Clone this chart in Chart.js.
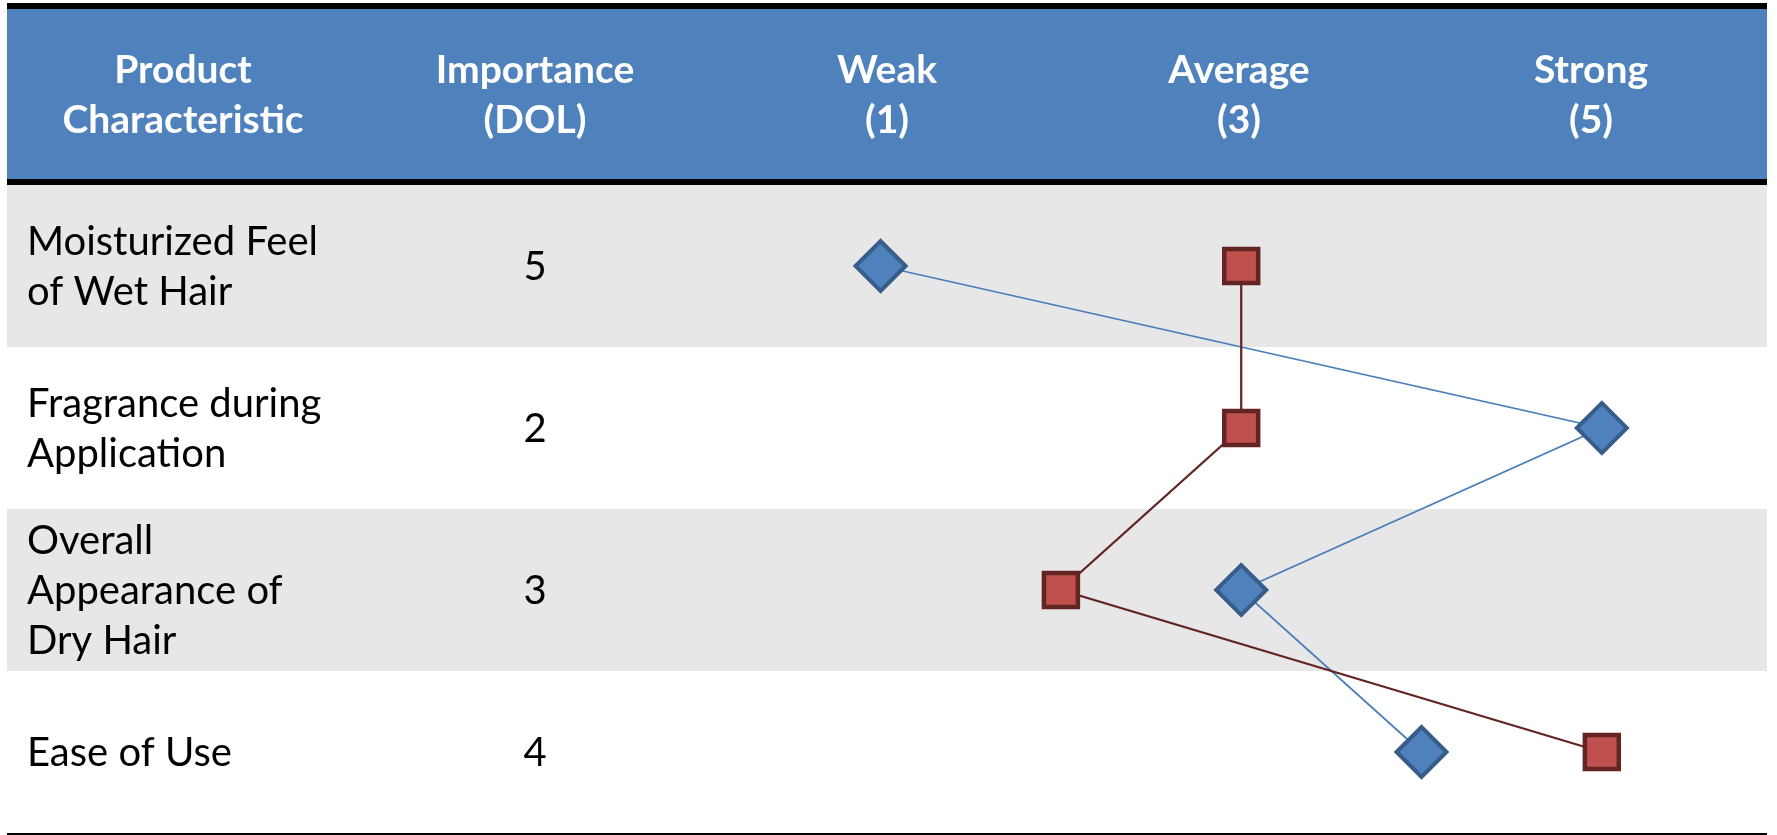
<!DOCTYPE html>
<html>
<head>
<meta charset="utf-8">
<title>Product Characteristic Ratings</title>
<script src="https://cdn.jsdelivr.net/npm/chart.js@4/dist/chart.umd.min.js"></script>
<style>
  html, body { margin: 0; padding: 0; background: #ffffff; }
  #wrap { position: relative; width: 1777px; height: 835px; }
</style>
</head>
<body>
<div id="wrap"><canvas id="chartRatings"></canvas></div>
<script>
// table columns and rows
const headerLabels = [
  ['Product', 'Characteristic'],
  ['Importance', '(DOL)'],
  ['Weak', '(1)'],
  ['Average', '(3)'],
  ['Strong', '(5)']
];
const characteristics = [
  ['Moisturized Feel', 'of Wet Hair'],
  ['Fragrance during', 'Application'],
  ['Overall', 'Appearance of', 'Dry Hair'],
  ['Ease of Use']
];
const importance = [5, 2, 3, 4];

// ratings on the 1..5 scale, one per characteristic
const ratingsBlue = [1, 5, 3, 4];
const ratingsRed = [3, 3, 2, 5];

const FONT = 'Lato, "Open Sans", sans-serif';
const HEAD_SIZE = 39;
const BODY_SIZE = 40;
const LINE_H = 50;

function drawLines(ctx, lines, x, midY, size) {
  const first = midY - (lines.length - 1) * LINE_H / 2 + size * 0.36;
  lines.forEach((t, k) => ctx.fillText(t, x, first + k * LINE_H));
}

// background table: header band, black rules, banded rows and the text columns
const tablePlugin = {
  id: 'ratingTable',
  beforeDatasetsDraw(chart) {
    const { ctx, chartArea: area, scales: { y } } = chart;
    const w = area.right - area.left;
    const colW = w / headerLabels.length;
    ctx.save();

    ctx.fillStyle = '#000000';
    ctx.fillRect(area.left, 3, w, 6);
    ctx.fillStyle = '#4f81bd';
    ctx.fillRect(area.left, 9, w, area.top - 15);
    ctx.fillStyle = '#000000';
    ctx.fillRect(area.left, area.top - 6, w, 6);

    ctx.fillStyle = '#ffffff';
    ctx.font = `bold ${HEAD_SIZE}px ${FONT}`;
    ctx.textAlign = 'center';
    ctx.textBaseline = 'alphabetic';
    const headMid = (9 + area.top - 6) / 2;
    headerLabels.forEach((lines, c) => {
      drawLines(ctx, lines, area.left + colW * (c + 0.5), headMid, HEAD_SIZE);
    });

    characteristics.forEach((lines, i) => {
      const top = y.getPixelForValue(i - 0.5);
      const bottom = y.getPixelForValue(i + 0.5);
      if (i % 2 === 0) {
        ctx.fillStyle = '#e7e7e7';
        ctx.fillRect(area.left, top, w, bottom - top);
      }
      const mid = (top + bottom) / 2;
      ctx.fillStyle = '#000000';
      ctx.font = `${BODY_SIZE}px ${FONT}`;
      ctx.textAlign = 'left';
      drawLines(ctx, lines, area.left + 20, mid, BODY_SIZE);
      ctx.textAlign = 'center';
      drawLines(ctx, [String(importance[i])], area.left + colW * 1.5, mid, BODY_SIZE);
    });

    ctx.fillStyle = '#000000';
    ctx.fillRect(area.left, area.bottom, w, 3);
    ctx.restore();
  }
};

const toPoints = arr => arr.map((v, i) => ({ x: v, y: i }));

const data = {
  datasets: [
    {
      label: 'Red',
      data: toPoints(ratingsRed),
      order: 1,
      borderColor: '#632523',
      borderWidth: 2.25,
      pointStyle: 'rect',
      pointRadius: 24,
      pointHoverRadius: 24,
      pointBackgroundColor: '#c0504d',
      pointBorderColor: '#632523',
      pointBorderWidth: 4.5
    },
    {
      label: 'Blue',
      data: toPoints(ratingsBlue),
      order: 2,
      borderColor: '#4a7ebb',
      borderWidth: 1.75,
      pointStyle: 'rectRot',
      pointRadius: 25,
      pointHoverRadius: 25,
      pointBackgroundColor: '#4f81bd',
      pointBorderColor: '#385d8a',
      pointBorderWidth: 4
    }
  ]
};

const config = {
  type: 'line',
  data: data,
  options: {
    responsive: true,
    maintainAspectRatio: false,
    animation: false,
    events: [],
    layout: { autoPadding: false, padding: { left: 7, right: 10, top: 185, bottom: 2 } },
    elements: { line: { tension: 0 } },
    plugins: {
      legend: { display: false },
      tooltip: { enabled: false },
      title: { display: false }
    },
    scales: {
      x: { type: 'linear', min: -3.845, max: 5.916, display: false },
      y: { type: 'linear', min: -0.5, max: 3.5, reverse: true, display: false }
    }
  },
  plugins: [tablePlugin]
};

const ctx = document.getElementById('chartRatings');
new Chart(ctx, config);
</script>
</body>
</html>
